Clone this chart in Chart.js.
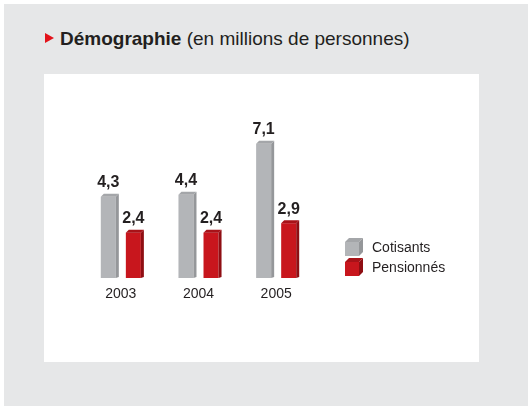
<!DOCTYPE html>
<html lang="fr">
<head>
<meta charset="utf-8">
<script src="https://cdn.jsdelivr.net/npm/chart.js@4"></script>
<style>
  body { margin: 0; background: #fff; width: 528px; height: 406px; position: relative; overflow: hidden; font-family: "Liberation Sans", Arial, sans-serif; }
  .panel { position: absolute; left: 4px; top: 4px; width: 524px; height: 402px; background: #e6e7e8; }
  .title { position: absolute; left: 45px; top: 28px; font-size: 19px; color: #231f20; white-space: nowrap; }
  .title b { font-weight: bold; }
  .tri { display: inline-block; width: 0; height: 0; border-top: 5px solid transparent; border-bottom: 5px solid transparent; border-left: 9px solid #e3131b; margin-right: 6px; vertical-align: 2px; }
  .box { position: absolute; left: 44px; top: 74px; width: 435px; height: 288px; background: #fff; }
</style>
</head>
<body>
<div class="panel"></div>
<div class="title"><span class="tri"></span><b>Démographie</b> (en millions de personnes)</div>
<div class="box"><canvas id="chart" width="435" height="288"></canvas></div>
<script>
"use strict";
const years = ["2003", "2004", "2005"];
const cotisants = [4.3, 4.4, 7.1];
const pensionnes = [2.4, 2.4, 2.9];
const seriesNames = ["Cotisants", "Pensionnés"];

const faceColors = ["#b3b5b8", "#c8161d"];
const sideColors = ["#95979a", "#8f0e13"];
const topColors = ["#a4a6a9", "#a81218"];
const depth = 3;

const fmt = (v) => v.toFixed(1).replace(".", ",");

const bars3d = {
  id: "bars3d",
  afterDatasetsDraw(chart) {
    const ctx = chart.ctx;
    chart.data.datasets.forEach((ds, i) => {
      chart.getDatasetMeta(i).data.forEach((bar, j) => {
        const l = bar.x - bar.width / 2;
        const r = bar.x + bar.width / 2;
        const t = bar.y;
        const b = bar.base;
        ctx.save();
        ctx.fillStyle = sideColors[i];
        ctx.beginPath();
        ctx.moveTo(r, t);
        ctx.lineTo(r + depth, t - depth);
        ctx.lineTo(r + depth, b - 1);
        ctx.lineTo(r, b);
        ctx.closePath();
        ctx.fill();
        ctx.fillStyle = topColors[i];
        ctx.beginPath();
        ctx.moveTo(l, t);
        ctx.lineTo(l + depth, t - depth);
        ctx.lineTo(r + depth, t - depth);
        ctx.lineTo(r, t);
        ctx.closePath();
        ctx.fill();
        ctx.fillStyle = "#231f20";
        ctx.font = "bold 16px 'Liberation Sans', Arial, sans-serif";
        ctx.textAlign = "center";
        ctx.textBaseline = "middle";
        ctx.fillText(fmt(ds.data[j]), bar.x, t - 14);
        ctx.restore();
      });
    });
    // legend
    const lx = 301, ly = [168, 188];
    chart.data.datasets.forEach((ds, i) => {
      const y = ly[i];
      const s = 14, d = 4;
      ctx.save();
      ctx.fillStyle = faceColors[i];
      ctx.fillRect(lx, y, s, s);
      ctx.fillStyle = topColors[i];
      ctx.beginPath();
      ctx.moveTo(lx, y);
      ctx.lineTo(lx + d, y - d);
      ctx.lineTo(lx + s + d, y - d);
      ctx.lineTo(lx + s, y);
      ctx.closePath();
      ctx.fill();
      ctx.fillStyle = sideColors[i];
      ctx.beginPath();
      ctx.moveTo(lx + s, y);
      ctx.lineTo(lx + s + d, y - d);
      ctx.lineTo(lx + s + d, y + s - d);
      ctx.lineTo(lx + s, y + s);
      ctx.closePath();
      ctx.fill();
      ctx.fillStyle = "#231f20";
      ctx.font = "14px 'Liberation Sans', Arial, sans-serif";
      ctx.textAlign = "left";
      ctx.textBaseline = "middle";
      ctx.fillText(ds.label, lx + 27, y + 6);
      ctx.restore();
    });
  },
};

new Chart(document.getElementById("chart"), {
  type: "bar",
  data: {
    labels: years,
    datasets: [
      { label: seriesNames[0], data: cotisants, backgroundColor: faceColors[0] },
      { label: seriesNames[1], data: pensionnes, backgroundColor: faceColors[1] },
    ],
  },
  options: {
    responsive: false,
    animation: false,
    layout: { padding: { left: 38, right: 164, top: 15, bottom: 0 } },
    categoryPercentage: 0.645,
    barPercentage: 0.6,
    plugins: { legend: { display: false }, tooltip: { enabled: false } },
    scales: {
      x: {
        grid: { display: false, drawTicks: false },
        border: { display: false },
        ticks: { color: "#231f20", padding: 8, font: { size: 14, family: "'Liberation Sans', Arial, sans-serif" } },
        afterFit(scale) { scale.height = 84; },
      },
      y: { display: false, min: 0, max: 10 },
    },
  },
  plugins: [bars3d],
});
</script>
</body>
</html>
